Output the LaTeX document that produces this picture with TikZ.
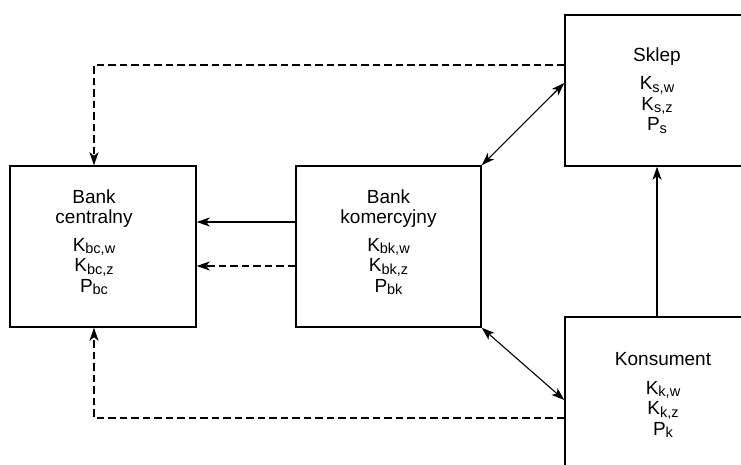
\documentclass[tikz,border=0pt]{standalone}
\usepackage{fontspec}
\setmainfont{Liberation Sans}
\usetikzlibrary{arrows.meta}
\newcommand{\idx}[1]{\raisebox{-2.5pt}{\fontsize{14.5}{14.5}\selectfont #1}}

\begin{document}
\begin{tikzpicture}[x=1pt, y=-1pt, >={Stealth[length=13pt,width=9pt,inset=3.5pt]},
		box/.style={draw, line width=1.5pt, align=center, inner sep=0pt, font=\fontsize{19}{20.5}\selectfont},
		txt/.style={align=center, inner sep=0pt, font=\fontsize{19}{20.5}\selectfont},
		flow/.style={line width=1.1pt},
		cash/.style={line width=1.1pt, dash pattern=on 7.5pt off 4pt}]
		\clip (0,0) rectangle (741,464);
		
		% Boxes
		\node[box, minimum width=186pt, minimum height=161pt] (bc) at (103,246.5) {};
		\node[txt] (bctext) at ([xshift=-9pt, yshift=4.5pt]bc.center)
		{Bank\\centralny\\[7pt]K\idx{bc,w}\\K\idx{bc,z}\\P\idx{bc}};
		\node[box, minimum width=185pt, minimum height=161pt] (bk) at (388.5,246.5) {};
		\node[txt] (bktext) at ([yshift=4.5pt]bk.center)
		{Bank\\komercyjny\\[7pt]K\idx{bk,w}\\K\idx{bk,z}\\P\idx{bk}};
		\node[box, minimum width=184pt, minimum height=151pt] (skl) at (657,90.5)
		{Sklep\\[8pt]K\idx{s,w}\\K\idx{s,z}\\P\idx{s}};
		\node[box, minimum width=196pt, minimum height=156pt] (kons) at (663,395)
		{Konsument\\[8pt]K\idx{k,w}\\K\idx{k,z}\\P\idx{k}};
		
		% Draw solid arrows
		\draw[flow, ->] ([yshift=24.5pt]bk.west) -- ([yshift=24.5pt]bc.east);
		\draw[flow, <->] ([yshift=7.5pt]skl.west) -- (bk.north east);
		\draw[flow, <->] (bk.south east) -- ([yshift=-5pt]kons.west);
		\draw[flow, ->] (kons.north -| skl.south) -- (skl.south);
		
		% Draw dashed arrows
		\draw[cash, ->] ([yshift=-19.5pt]bk.west) -- ([yshift=-19.5pt]bc.east);
		\draw[cash, ->] ([yshift=25.5pt]skl.west) -| ([xshift=-9pt]bc.north);
		\draw[cash, ->] ([yshift=-23pt]kons.west) -| ([xshift=-9pt]bc.south);
	\end{tikzpicture}
\end{document}
